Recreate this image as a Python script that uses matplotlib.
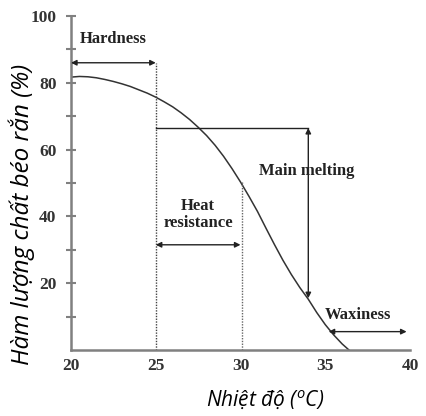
import matplotlib
matplotlib.use("Agg")
import matplotlib.pyplot as plt

# solid fat content curve
temp = [20, 20.5, 21, 21.5, 22, 22.5, 23, 23.5, 24, 24.5, 25, 25.5, 26, 26.5,
        27, 27.5, 28, 28.5, 29, 29.5, 30, 30.5, 31, 31.5, 32, 32.5, 33, 33.5,
        34, 34.5, 35, 35.5, 36, 36.4]
sfc = [81.7, 81.9, 81.8, 81.5, 81.0, 80.4, 79.7, 78.9, 77.9, 76.9, 75.7, 74.3,
       72.8, 71.0, 69.0, 66.7, 64.2, 61.3, 58.0, 54.3, 50.3, 46.0, 41.5, 36.5,
       31.6, 26.9, 22.6, 18.7, 15.2, 11.2, 7.6, 4.5, 1.8, 0]

x_ticks = [20, 25, 30, 35, 40]
y_ticks = [20, 40, 60, 80, 100]
y_minor = [10, 30, 50, 70, 90]

# marked zones: (x0, x1, y) for double arrows
hardness = (20, 25, 86)
heat_res = (25, 30, 31.5)
waxiness = (35.2, 39.8, 5.5)
melt_top = 66.5
melt_bottom = 15.5
melt_x = 34.0
dotted_x = [25, 30.1]

serif = "Liberation Serif"
ink = "#222222"
axis_grey = "#808080"

fig = plt.figure(figsize=(4.26, 4.16), dpi=100)
ax = fig.add_axes([71/426, 66/416, 339/426, 334/416])

ax.plot(temp, sfc, color="#333333", lw=1.1)

# dotted boundaries
ax.plot([dotted_x[0], dotted_x[0]], [0, hardness[2]], ls=(0, (1, 1)), color="#444444", lw=1)
ax.plot([dotted_x[1], dotted_x[1]], [0, 50.5], ls=(0, (1, 1)), color="#666666", lw=1)

arrow = dict(arrowstyle="<|-|>", color=ink, lw=1, mutation_scale=8,
             shrinkA=0, shrinkB=0)
ax.annotate("", xy=(hardness[0], hardness[2]), xytext=(hardness[1], hardness[2]), arrowprops=arrow)
ax.annotate("", xy=(heat_res[0], heat_res[2]), xytext=(heat_res[1], heat_res[2]), arrowprops=arrow)
ax.annotate("", xy=(waxiness[0], waxiness[2]), xytext=(waxiness[1], waxiness[2]), arrowprops=arrow)

# main melting: horizontal line plus vertical double arrow
ax.plot([dotted_x[0], melt_x], [melt_top, melt_top], color=ink, lw=1)
ax.annotate("", xy=(melt_x, melt_bottom), xytext=(melt_x, melt_top), arrowprops=arrow)

tkw = dict(family=serif, fontweight="bold", fontsize=12, color=ink)
ax.text(22.5, 93, "Hardness", ha="center", va="center", **tkw)
ax.text(27.5, 40.5, "Heat\nresistance", ha="center", va="center", linespacing=1.1, **tkw)
ax.text(33.9, 53.6, "Main melting", ha="center", va="center", **tkw)
ax.text(36.9, 10.5, "Waxiness", ha="center", va="center", **tkw)

ax.set_xlim(20, 40)
ax.set_ylim(0, 100)
ax.set_xticks(x_ticks)
ax.set_yticks(y_ticks)
ax.set_yticks(y_minor, minor=True)
ax.set_xticklabels([str(v) for v in x_ticks], family=serif, fontweight="bold",
                   fontsize=12.5, color="#333333")
ax.set_yticklabels([str(v) for v in y_ticks], family=serif, fontweight="bold",
                   fontsize=12.5, color="#333333")
ax.tick_params(axis="x", length=0, pad=6)
ax.tick_params(axis="y", which="both", direction="inout", length=7,
               color=axis_grey, width=1.5, pad=7)

for s in ["top", "right"]:
    ax.spines[s].set_visible(False)
for s in ["left", "bottom"]:
    ax.spines[s].set_color(axis_grey)
    ax.spines[s].set_linewidth(1.8)

ax.set_ylabel("Hàm lượng chất béo rắn (%)", family="Open Sans", style="italic",
              fontsize=17.5, color="black")
ax.yaxis.set_label_coords(-0.105, 0.405)
ax.set_xlabel("Nhiệt độ ($^{\\mathregular{o}}$C)", family="Open Sans",
              style="italic", fontsize=15, color="black")
ax.xaxis.set_label_coords(0.574, -0.115)

fig.savefig("out.png", dpi=100)
